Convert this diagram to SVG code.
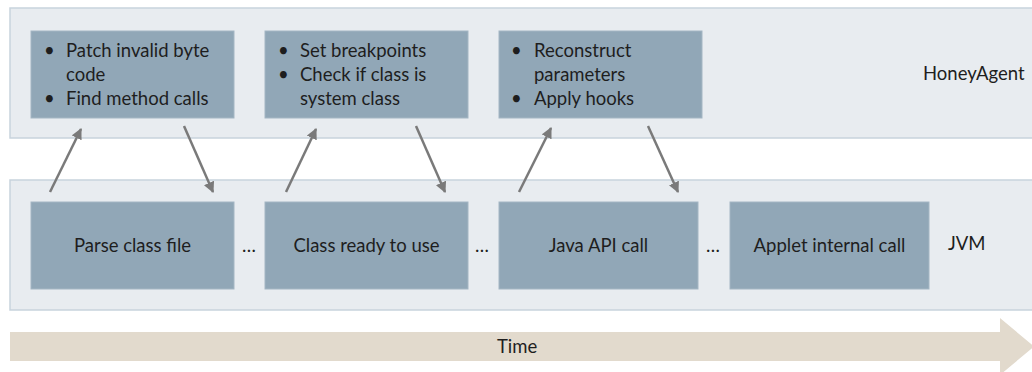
<svg xmlns="http://www.w3.org/2000/svg" width="1032" height="372" viewBox="0 0 1032 372">
  <style>
    .band { fill: #e8ecf0; stroke: #c8d3dd; stroke-width: 1.5; }
    .box { fill: #91a7b7; stroke: #a4b6c3; stroke-width: 1; }
    .txt { font-family: "Lato", "Liberation Sans", sans-serif; font-size: 18.5px; fill: #1e1e1e; }
    .mid { text-anchor: middle; }
    .link { stroke: #7a7a7a; stroke-width: 2.5; fill: none; marker-end: url(#head); }
  </style>
  <defs>
    <marker id="head" viewBox="0 0 10 10" refX="9" refY="5" markerWidth="11" markerHeight="11" markerUnits="userSpaceOnUse" orient="auto">
      <path d="M0,0 L10,5 L0,10 Z" fill="#7a7a7a"/>
    </marker>
  </defs>

  <!-- layers -->
  <g id="honeyagent-layer">
    <rect class="band" x="10" y="8" width="1030" height="130"/>
    <text class="txt" x="923" y="80">HoneyAgent</text>
  </g>
  <g id="jvm-layer">
    <rect class="band" x="10" y="180" width="1030" height="130"/>
    <text class="txt" x="948" y="250">JVM</text>
  </g>

  <!-- HoneyAgent steps -->
  <g id="patch">
    <rect class="box" x="31" y="31" width="203" height="87"/>
    <text class="txt"><tspan x="44" y="57">•</tspan><tspan x="66" y="57">Patch invalid byte</tspan><tspan x="66" y="81">code</tspan><tspan x="44" y="105">•</tspan><tspan x="66" y="105">Find method calls</tspan></text>
  </g>
  <g id="breakpoints">
    <rect class="box" x="265" y="31" width="203" height="87"/>
    <text class="txt"><tspan x="278" y="57">•</tspan><tspan x="300" y="57">Set breakpoints</tspan><tspan x="278" y="81">•</tspan><tspan x="300" y="81">Check if class is</tspan><tspan x="300" y="105">system class</tspan></text>
  </g>
  <g id="hooks">
    <rect class="box" x="499" y="31" width="203" height="87"/>
    <text class="txt"><tspan x="511" y="57">•</tspan><tspan x="534" y="57">Reconstruct</tspan><tspan x="534" y="81">parameters</tspan><tspan x="511" y="105">•</tspan><tspan x="534" y="105">Apply hooks</tspan></text>
  </g>

  <!-- JVM steps -->
  <g id="parse">
    <rect class="box" x="31" y="202" width="203" height="87"/>
    <text class="txt mid" x="132.5" y="252">Parse class file</text>
  </g>
  <g id="ready">
    <rect class="box" x="265" y="202" width="203" height="87"/>
    <text class="txt mid" x="366.5" y="252">Class ready to use</text>
  </g>
  <g id="api-call">
    <rect class="box" x="499" y="202" width="199" height="87"/>
    <text class="txt mid" x="598.5" y="252">Java API call</text>
  </g>
  <g id="internal-call">
    <rect class="box" x="730" y="202" width="199" height="87"/>
    <text class="txt mid" x="829.5" y="252">Applet internal call</text>
  </g>
  <g id="gaps">
    <text class="txt mid" x="249" y="252">…</text>
    <text class="txt mid" x="482" y="252">…</text>
    <text class="txt mid" x="713" y="252">…</text>
  </g>

  <!-- time axis -->
  <g id="time">
    <path d="M10,332 L1000,332 L1000,318 L1034,346.5 L1000,375 L1000,361 L10,361 Z" fill="#e2dacd"/>
    <text class="txt" x="497" y="353">Time</text>
  </g>

  <!-- connectors -->
  <g id="connectors">
    <line class="link" x1="50" y1="192" x2="81" y2="129"/>
    <line class="link" x1="184" y1="126" x2="213" y2="192"/>
    <line class="link" x1="286" y1="192" x2="316" y2="129"/>
    <line class="link" x1="416" y1="126" x2="445" y2="192"/>
    <line class="link" x1="519" y1="192" x2="551" y2="128"/>
    <line class="link" x1="648" y1="126" x2="678" y2="192"/>
  </g>
</svg>
